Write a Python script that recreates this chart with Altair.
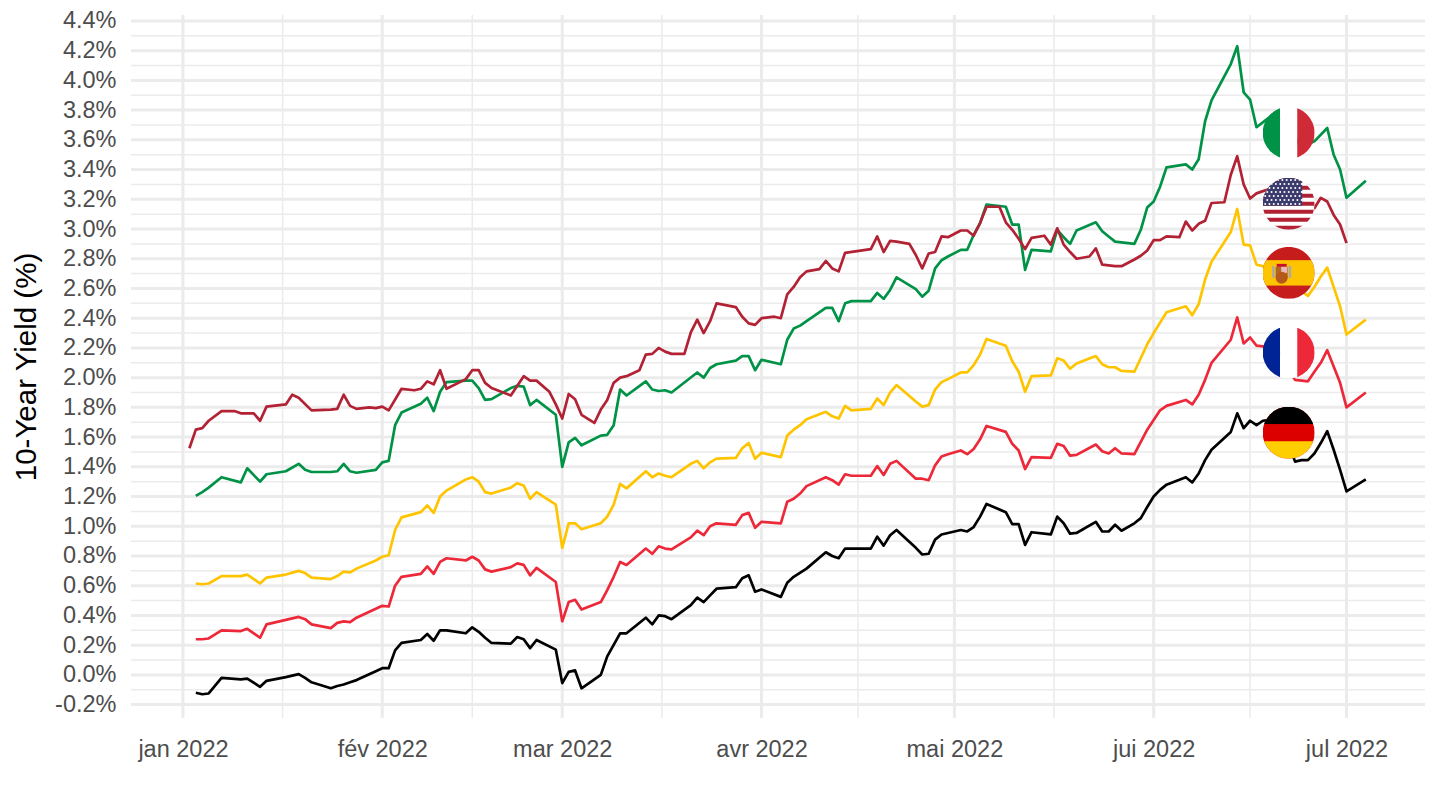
import base64
import altair as alt
import pandas as pd

YEAR = "2022-"

germany = [("01-03",-0.12),("01-04",-0.13),("01-05",-0.125),("01-07",-0.02),("01-10",-0.03),("01-11",-0.025),("01-13",-0.08),("01-14",-0.04),("01-17",-0.015),("01-19",0.005),("01-20",-0.02),("01-21",-0.05),("01-24",-0.09),("01-25",-0.075),("01-26",-0.065),("01-27",-0.05),("01-28",-0.035),("01-31",0.025),
("02-01",0.045),("02-02",0.045),("02-03",0.165),("02-04",0.215),("02-07",0.235),("02-08",0.275),("02-09",0.23),("02-10",0.30),("02-11",0.30),("02-14",0.28),("02-15",0.32),("02-16",0.29),("02-17",0.25),("02-18",0.215),("02-21",0.21),("02-22",0.255),("02-23",0.24),("02-24",0.18),("02-25",0.235),("02-28",0.17),
("03-01",-0.055),("03-02",0.02),("03-03",0.03),("03-04",-0.09),("03-07",0.0),("03-08",0.125),("03-10",0.28),("03-11",0.28),("03-14",0.385),("03-15",0.34),("03-16",0.40),("03-17",0.395),("03-18",0.375),("03-21",0.47),("03-22",0.52),("03-23",0.49),("03-24",0.535),("03-25",0.58),("03-28",0.59),("03-29",0.65),("03-30",0.67),("03-31",0.56),
("04-01",0.575),("04-04",0.525),("04-05",0.62),("04-06",0.66),("04-08",0.715),("04-11",0.825),("04-12",0.80),("04-13",0.785),("04-14",0.85),("04-15",0.85),("04-18",0.85),("04-19",0.93),("04-20",0.87),("04-21",0.94),("04-22",0.975),("04-25",0.855),("04-26",0.81),("04-27",0.815),("04-28",0.91),("04-29",0.945),("04-30",0.955),
("05-02",0.975),("05-03",0.965),("05-04",0.995),("05-05",1.065),("05-06",1.15),("05-09",1.095),("05-10",1.015),("05-11",1.015),("05-12",0.875),("05-13",0.96),("05-16",0.945),("05-17",1.065),("05-18",1.02),("05-19",0.95),("05-20",0.955),("05-23",1.03),("05-24",0.965),("05-25",0.965),("05-26",1.01),("05-27",0.97),("05-29",1.02),("05-30",1.055),("05-31",1.13),
("06-01",1.20),("06-02",1.245),("06-03",1.28),("06-06",1.33),("06-07",1.295),("06-08",1.355),("06-09",1.445),("06-10",1.515),("06-13",1.635),("06-14",1.76),("06-15",1.66),("06-16",1.71),("06-17",1.68),("06-18",1.71),("06-20",1.72),("06-21",1.68),("06-22",1.55),("06-23",1.435),("06-24",1.445),("06-25",1.445),("06-26",1.49),("06-27",1.56),("06-28",1.64),("06-29",1.515),("06-30",1.38),("07-01",1.235),("07-04",1.315)]

france = [("01-03",0.24),("01-04",0.24),("01-05",0.245),("01-07",0.30),("01-10",0.295),("01-11",0.31),("01-13",0.25),("01-14",0.34),("01-17",0.37),("01-19",0.39),("01-20",0.375),("01-21",0.34),("01-24",0.315),("01-25",0.35),("01-26",0.36),("01-27",0.355),("01-28",0.385),("01-31",0.445),
("02-01",0.465),("02-02",0.46),("02-03",0.60),("02-04",0.66),("02-07",0.68),("02-08",0.73),("02-09",0.68),("02-10",0.76),("02-11",0.785),("02-14",0.77),("02-15",0.795),("02-16",0.77),("02-17",0.71),("02-18",0.695),("02-21",0.725),("02-22",0.75),("02-23",0.74),("02-24",0.67),("02-25",0.72),("02-28",0.625),
("03-01",0.36),("03-02",0.49),("03-03",0.505),("03-04",0.44),("03-07",0.49),("03-08",0.57),("03-09",0.66),("03-10",0.76),("03-11",0.74),("03-14",0.85),("03-15",0.815),("03-16",0.865),("03-17",0.85),("03-18",0.845),("03-21",0.925),("03-22",0.97),("03-23",0.94),("03-24",1.0),("03-25",1.02),("03-28",1.01),("03-29",1.075),("03-30",1.09),("03-31",0.99),
("04-01",1.03),("04-04",1.02),("04-05",1.165),("04-06",1.185),("04-07",1.22),("04-08",1.27),("04-11",1.33),("04-12",1.31),("04-13",1.28),("04-14",1.35),("04-15",1.34),("04-18",1.34),("04-19",1.405),("04-20",1.345),("04-21",1.42),("04-22",1.44),("04-25",1.32),("04-26",1.32),("04-27",1.31),("04-28",1.41),("04-29",1.47),("04-30",1.485),
("05-02",1.51),("05-03",1.485),("05-04",1.52),("05-05",1.585),("05-06",1.675),("05-09",1.635),("05-10",1.555),("05-11",1.51),("05-12",1.385),("05-13",1.465),("05-16",1.46),("05-17",1.555),("05-18",1.54),("05-19",1.475),("05-20",1.48),("05-23",1.55),("05-24",1.505),("05-25",1.49),("05-26",1.525),("05-27",1.49),("05-29",1.485),("05-31",1.65),
("06-01",1.715),("06-02",1.78),("06-03",1.81),("06-06",1.85),("06-07",1.82),("06-08",1.885),("06-09",1.985),("06-10",2.10),("06-13",2.255),("06-14",2.405),("06-15",2.23),("06-16",2.27),("06-17",2.215),("06-18",2.21),("06-20",2.20),("06-21",2.15),("06-22",2.05),("06-23",1.985),("06-25",1.975),("06-26",2.04),("06-27",2.10),("06-28",2.185),("06-29",2.075),("06-30",1.965),("07-01",1.80),("07-04",1.90)]

spain = [("01-03",0.615),("01-04",0.61),("01-05",0.615),("01-07",0.665),("01-10",0.665),("01-11",0.675),("01-13",0.615),("01-14",0.655),("01-17",0.675),("01-19",0.70),("01-20",0.685),("01-21",0.655),("01-24",0.645),("01-25",0.665),("01-26",0.695),("01-27",0.69),("01-28",0.715),("01-31",0.77),
("02-01",0.795),("02-02",0.805),("02-03",0.975),("02-04",1.06),("02-07",1.095),("02-08",1.14),("02-09",1.09),("02-10",1.20),("02-11",1.24),("02-14",1.315),("02-15",1.33),("02-16",1.30),("02-17",1.23),("02-18",1.22),("02-21",1.26),("02-22",1.29),("02-23",1.275),("02-24",1.185),("02-25",1.23),("02-28",1.145),
("03-01",0.855),("03-02",1.02),("03-03",1.02),("03-04",0.98),("03-07",1.02),("03-08",1.065),("03-09",1.145),("03-10",1.285),("03-11",1.255),("03-14",1.37),("03-15",1.33),("03-16",1.355),("03-17",1.34),("03-18",1.33),("03-21",1.42),("03-22",1.44),("03-23",1.39),("03-24",1.43),("03-25",1.455),("03-28",1.46),("03-29",1.525),("03-30",1.56),("03-31",1.455),
("04-01",1.495),("04-04",1.465),("04-05",1.61),("04-06",1.65),("04-07",1.68),("04-08",1.72),("04-11",1.77),("04-12",1.74),("04-13",1.725),("04-14",1.81),("04-15",1.78),("04-18",1.79),("04-19",1.86),("04-20",1.815),("04-21",1.90),("04-22",1.95),("04-25",1.84),("04-26",1.805),("04-27",1.815),("04-28",1.92),("04-29",1.97),("04-30",1.99),
("05-02",2.035),("05-03",2.035),("05-04",2.085),("05-05",2.155),("05-06",2.26),("05-09",2.215),("05-10",2.11),("05-11",2.04),("05-12",1.905),("05-13",2.01),("05-16",2.015),("05-17",2.13),("05-18",2.115),("05-19",2.06),("05-20",2.095),("05-23",2.145),("05-24",2.09),("05-25",2.07),("05-26",2.07),("05-27",2.045),("05-29",2.04),("05-31",2.225),
("06-01",2.30),("06-02",2.37),("06-03",2.44),("06-06",2.48),("06-07",2.42),("06-08",2.495),("06-09",2.66),("06-10",2.78),("06-13",2.98),("06-14",3.135),("06-15",2.895),("06-16",2.89),("06-17",2.76),("06-18",2.75),("06-20",2.73),("06-22",2.65),("06-25",2.55),("06-26",2.61),("06-27",2.68),("06-28",2.74),("06-29",2.61),("06-30",2.48),("07-01",2.29),("07-04",2.39)]

italy = [("01-03",1.205),("01-04",1.23),("01-05",1.26),("01-07",1.33),("01-10",1.295),("01-11",1.39),("01-13",1.30),("01-14",1.35),("01-17",1.37),("01-19",1.42),("01-20",1.38),("01-21",1.365),("01-24",1.365),("01-25",1.37),("01-26",1.42),("01-27",1.37),("01-28",1.36),("01-31",1.38),
("02-01",1.43),("02-02",1.44),("02-03",1.68),("02-04",1.765),("02-07",1.825),("02-08",1.865),("02-09",1.775),("02-10",1.905),("02-11",1.97),("02-14",1.98),("02-15",1.98),("02-16",1.93),("02-17",1.85),("02-18",1.855),("02-21",1.93),("02-22",1.945),("02-23",1.94),("02-24",1.815),("02-25",1.85),("02-28",1.75),
("03-01",1.40),("03-02",1.565),("03-03",1.595),("03-04",1.545),("03-07",1.61),("03-08",1.615),("03-09",1.68),("03-10",1.92),("03-11",1.88),("03-14",1.975),("03-15",1.92),("03-16",1.91),("03-17",1.915),("03-18",1.90),("03-22",2.035),("03-23",2.00),("03-24",2.065),("03-25",2.09),("03-28",2.115),("03-29",2.145),("03-30",2.145),("03-31",2.05),
("04-01",2.12),("04-04",2.09),("04-05",2.255),("04-06",2.33),("04-07",2.35),("04-08",2.38),("04-11",2.47),("04-12",2.47),("04-13",2.38),("04-14",2.50),("04-15",2.515),("04-18",2.515),("04-19",2.57),("04-20",2.53),("04-21",2.59),("04-22",2.675),("04-25",2.595),("04-26",2.545),("04-27",2.585),("04-28",2.735),("04-29",2.79),("04-30",2.815),
("05-02",2.86),("05-03",2.86),("05-04",2.96),("05-05",3.04),("05-06",3.165),("05-09",3.15),("05-10",3.03),("05-11",3.03),("05-12",2.725),("05-13",2.86),("05-16",2.85),("05-17",2.995),("05-18",2.945),("05-19",2.90),("05-20",2.99),("05-23",3.045),("05-24",2.985),("05-25",2.95),("05-26",2.915),("05-27",2.91),("05-29",2.90),("05-30",2.995),("05-31",3.145),
("06-01",3.185),("06-02",3.285),("06-03",3.415),("06-06",3.435),("06-07",3.40),("06-08",3.47),("06-09",3.725),("06-10",3.865),("06-13",4.11),("06-14",4.23),("06-15",3.92),("06-16",3.87),("06-17",3.685),("06-20",3.785),("06-22",3.68),("06-24",3.55),("06-26",3.59),("06-28",3.68),("06-29",3.50),("06-30",3.40),("07-01",3.21),("07-04",3.325)]

usa = [("01-02",1.525),("01-03",1.65),("01-04",1.66),("01-05",1.71),("01-07",1.775),("01-09",1.775),("01-10",1.76),("01-12",1.76),("01-13",1.71),("01-14",1.805),("01-17",1.82),("01-18",1.885),("01-19",1.865),("01-21",1.78),("01-24",1.785),("01-25",1.79),("01-26",1.885),("01-27",1.81),("01-28",1.79),("01-30",1.80),("01-31",1.795),
("02-01",1.805),("02-02",1.78),("02-04",1.925),("02-06",1.915),("02-07",1.925),("02-08",1.975),("02-09",1.955),("02-10",2.05),("02-11",1.925),("02-14",1.99),("02-15",2.05),("02-16",2.05),("02-17",1.965),("02-18",1.93),("02-21",1.88),("02-23",2.01),("02-24",1.98),("02-25",1.98),("02-27",1.905),("02-28",1.82),
("03-01",1.725),("03-02",1.89),("03-03",1.855),("03-04",1.75),("03-06",1.695),("03-07",1.785),("03-08",1.85),("03-09",1.965),("03-10",2.00),("03-11",2.01),("03-13",2.05),("03-14",2.155),("03-15",2.16),("03-16",2.20),("03-17",2.175),("03-18",2.16),("03-20",2.16),("03-21",2.305),("03-22",2.39),("03-23",2.30),("03-24",2.38),("03-25",2.50),("03-28",2.475),("03-29",2.41),("03-30",2.365),("03-31",2.355),
("04-01",2.40),("04-03",2.41),("04-04",2.40),("04-05",2.56),("04-06",2.61),("04-07",2.675),("04-08",2.715),("04-10",2.73),("04-11",2.785),("04-12",2.735),("04-13",2.715),("04-14",2.84),("04-18",2.865),("04-19",2.95),("04-20",2.845),("04-21",2.92),("04-22",2.915),("04-24",2.90),("04-25",2.825),("04-26",2.735),("04-27",2.835),("04-28",2.845),("04-29",2.95),("04-30",2.945),
("05-02",2.99),("05-03",2.99),("05-04",2.955),("05-05",3.04),("05-06",3.15),("05-08",3.15),("05-09",3.045),("05-10",2.995),("05-11",2.935),("05-12",2.865),("05-13",2.94),("05-15",2.955),("05-16",2.895),("05-17",3.005),("05-18",2.895),("05-19",2.845),("05-20",2.80),("05-22",2.815),("05-23",2.87),("05-24",2.76),("05-26",2.75),("05-27",2.75),("05-29",2.795),("05-30",2.82),("05-31",2.855),
("06-01",2.925),("06-02",2.925),("06-03",2.95),("06-05",2.945),("06-06",3.05),("06-07",2.99),("06-08",3.035),("06-09",3.055),("06-10",3.175),("06-12",3.18),("06-13",3.365),("06-14",3.49),("06-15",3.30),("06-16",3.205),("06-17",3.24),("06-18",3.255),("06-20",3.28),("06-22",3.25),("06-24",3.15),("06-26",3.14),("06-27",3.21),("06-28",3.185),("06-29",3.095),("06-30",3.03),("07-01",2.905)]

series = {"Germany": germany, "France": france, "Spain": spain, "Italy": italy, "United States": usa}
country_names = list(series)
line_colors = ["#000000", "#ED2939", "#FFC400", "#009246", "#B22234"]

y_major = [round(-0.2 + 0.2 * i, 1) for i in range(24)]
y_minor = [round(-0.1 + 0.2 * i, 1) for i in range(23)]
x_major = ["2022-01-01", "2022-02-01", "2022-03-01", "2022-04-01", "2022-05-01", "2022-06-01", "2022-07-01"]
x_minor = ["2022-01-16T12:00:00Z", "2022-02-15", "2022-03-16T12:00:00Z", "2022-04-16", "2022-05-16T12:00:00Z", "2022-06-16"]
month_labels = ["jan 2022", "fév 2022", "mar 2022", "avr 2022", "mai 2022", "jui 2022", "jul 2022"]
x_domain = ["2021-12-23T22:00:00Z", "2022-07-13T05:00:00Z"]
y_domain = [-0.29, 4.44]

flag_date = "2022-06-22"
flag_values = [1.63, 2.17, 2.705, 3.17, 3.647]


def svg_uri(body):
    svg = ('<svg xmlns="http://www.w3.org/2000/svg" width="104" height="104" viewBox="0 0 52 52">'
           '<defs><clipPath id="c"><circle cx="26" cy="26" r="26"/></clipPath></defs>'
           '<g clip-path="url(#c)">' + body + '</g></svg>')
    return "data:image/svg+xml;base64," + base64.b64encode(svg.encode()).decode()


def rect(x, y, w, h, fill):
    return f'<rect x="{x}" y="{y}" width="{w}" height="{h}" fill="{fill}"/>'


def us_flag():
    s = rect(0, 0, 52, 52, "#fff")
    for i in range(0, 13, 2):
        s += rect(0, i * 4, 52, 4, "#B22234")
    s += rect(0, 0, 39.5, 28, "#3C3B6E")
    for r in range(7):
        for c in range(9):
            s += f'<circle cx="{2.5 + c * 4.3 + (r % 2) * 2.1:.1f}" cy="{2.2 + r * 4:.1f}" r="1" fill="#fff"/>'
    return s


flag_images = [
    svg_uri(rect(0, 0, 52, 52, "#DD0000") + rect(0, 0, 52, 17.4, "#000") + rect(0, 34.6, 52, 17.4, "#FFCE00")),
    svg_uri(rect(0, 0, 17.4, 52, "#002395") + rect(17.4, 0, 17.4, 52, "#fff") + rect(34.6, 0, 17.4, 52, "#ED2939")),
    svg_uri(rect(0, 0, 52, 52, "#C61C1C") + rect(0, 13.3, 52, 25.4, "#FFC400")
            + rect(9.5, 19, 2.5, 12, "#A8A8B0") + rect(26, 19, 2.5, 12, "#A8A8B0")
            + rect(14, 17, 10, 3, "#C8102E") + rect(13, 20, 12, 11, "#B5651D")
            + rect(18.5, 20, 6, 6, "#E6B8C0") + '<circle cx="19" cy="31" r="6" fill="#B5581A"/>'),
    svg_uri(us_flag()),
    svg_uri(rect(0, 0, 17.4, 52, "#009246") + rect(17.4, 0, 17.4, 52, "#fff") + rect(34.6, 0, 17.4, 52, "#CE2B37")),
]

rows = [{"date": YEAR + d, "value": v, "country": name} for name, pts in series.items() for d, v in pts]
lines_df = pd.DataFrame(rows)
flags_df = pd.DataFrame({"date": [flag_date] * 5, "value": flag_values, "img": flag_images})

FONT = "Liberation Sans"
GRID = "#EBEBEB"
xs = alt.Scale(type="utc", domain=x_domain)
ys = alt.Scale(domain=y_domain, nice=False, zero=False)

month_expr = "[" + ",".join(f"'{m}'" for m in month_labels) + "][utcmonth(datum.value)]"
x_axis = alt.Axis(values=x_major, labelExpr=month_expr, title=None, grid=False, domain=False, ticks=False,
                  labelFont=FONT, labelFontSize=23.5, labelColor="#4D4D4D", labelPadding=19,
                  labelOverlap=False, labelFlush=False)
y_axis = alt.Axis(values=y_major, title="10-Year Yield (%)", grid=False, domain=False, ticks=False,
                  labelExpr="(datum.value<0?'-':'')+format(abs(datum.value),'.1f')+'%'",
                  labelFont=FONT, labelFontSize=23.5, labelColor="#4D4D4D", labelPadding=15,
                  labelOverlap=False, labelFlush=False,
                  titleFont=FONT, titleFontSize=29.5, titleFontWeight="normal", titleColor="#000000", titlePadding=13)

hminor = alt.Chart(pd.DataFrame({"v": y_minor})).mark_rule(color=GRID, strokeWidth=1.5).encode(
    y=alt.Y("v:Q", scale=ys, axis=y_axis))
vminor = alt.Chart(pd.DataFrame({"d": x_minor})).mark_rule(color=GRID, strokeWidth=1.5).encode(
    x=alt.X("d:T", scale=xs, axis=x_axis))
hmajor = alt.Chart(pd.DataFrame({"v": y_major})).mark_rule(color=GRID, strokeWidth=3).encode(
    y=alt.Y("v:Q", scale=ys, axis=y_axis))
vmajor = alt.Chart(pd.DataFrame({"d": x_major})).mark_rule(color=GRID, strokeWidth=3).encode(
    x=alt.X("d:T", scale=xs, axis=x_axis))
lines = alt.Chart(lines_df).mark_line(strokeWidth=2.7, strokeJoin="round").encode(
    x=alt.X("date:T", scale=xs, axis=x_axis),
    y=alt.Y("value:Q", scale=ys, axis=y_axis),
    color=alt.Color("country:N", scale=alt.Scale(domain=country_names, range=line_colors), legend=None),
    order=alt.Order("date:T"),
    detail="country:N",
)
flags = alt.Chart(flags_df).mark_image(width=52, height=52).encode(
    x=alt.X("date:T", scale=xs, axis=x_axis),
    y=alt.Y("value:Q", scale=ys, axis=y_axis),
    url="img:N",
)

chart = alt.layer(hminor, vminor, hmajor, vmajor, lines, flags).properties(
    width=1294, height=703,
    autosize=alt.AutoSizeParams(type="none"),
    padding={"left": 123, "top": 7, "right": 7, "bottom": 70},
).configure_view(stroke=None)

chart.save("out.html", embed_options={"renderer": "svg", "actions": False})
